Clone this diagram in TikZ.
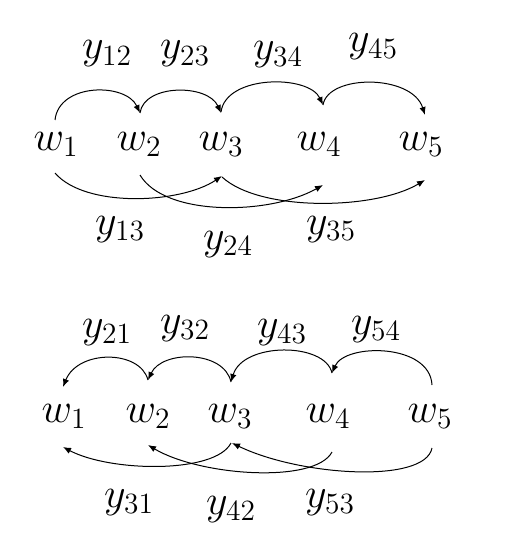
\RequirePackage{fix-cm}
\documentclass[tikz,border=0pt]{standalone}
\usetikzlibrary{arrows.meta,calc}
\begin{document}
\begin{tikzpicture}[x=0.5pt,y=-0.5pt,
  wn/.style={anchor=base,inner sep=0pt,font=\fontsize{21}{25}\selectfont},
  lab/.style={anchor=base,inner sep=0pt,font=\fontsize{21}{25}\selectfont},
  arc/.style={line width=0.5pt,-{Latex[length=4pt,width=3.2pt]}}]
\useasboundingbox (0,0) rectangle (520,540);
% top diagram
\node[wn] (a1) at (56,150) {$w_1$};
\node[wn] (a2) at (139,150) {$w_2$};
\node[wn] (a3) at (221,150) {$w_3$};
\node[wn] (a4) at (319,150) {$w_4$};
\node[wn] (a5) at (421,150) {$w_5$};
\node[lab] (y12) at (107,59) {$y_{12}$};
\node[lab] (y23) at (185,59) {$y_{23}$};
\node[lab] (y34) at (278,60) {$y_{34}$};
\node[lab] (y45) at (373,52) {$y_{45}$};
\node[lab] (y13) at (120,234) {$y_{13}$};
\node[lab] (y24) at (228,249) {$y_{24}$};
\node[lab] (y35) at (331,234) {$y_{35}$};
\draw[arc] ($(a1.base)+(-1,-30)$) .. controls ($(a1.base)+(3,-67.4)$) and ($(a2.base)+(-13,-67.4)$) .. ($(a2.base)+(1,-37)$);
\draw[arc] ($(a2.base)+(1,-37)$) .. controls ($(a2.base)+(5,-66.3)$) and ($(a3.base)+(-13,-66.3)$) .. ($(a3.base)+(0,-37)$);
\draw[arc] ($(a3.base)+(0,-38)$) .. controls ($(a3.base)+(5,-75.5)$) and ($(a4.base)+(-10,-75.5)$) .. ($(a4.base)+(4,-45)$);
\draw[arc] ($(a4.base)+(4,-45)$) .. controls ($(a4.base)+(9,-76)$) and ($(a5.base)+(-9,-76)$) .. ($(a5.base)+(4,-35)$);
\draw[arc] ($(a1.base)+(-1,23)$) .. controls ($(a1.base)+(29,58)$) and ($(a3.base)+(-41,54)$) .. ($(a3.base)+(1,26)$);
\draw[arc] ($(a2.base)+(1,25)$) .. controls ($(a2.base)+(26,67)$) and ($(a4.base)+(-49,65)$) .. ($(a4.base)+(4,35)$);
\draw[arc] ($(a3.base)+(1,27)$) .. controls ($(a3.base)+(39,62)$) and ($(a5.base)+(-46,60)$) .. ($(a5.base)+(4,30)$);
% bottom diagram
\node[wn] (b1) at (64,422) {$w_1$};
\node[wn] (b2) at (148,422) {$w_2$};
\node[wn] (b3) at (230,422) {$w_3$};
\node[wn] (b4) at (328,422) {$w_4$};
\node[wn] (b5) at (430,422) {$w_5$};
\node[lab] (y21) at (107,337) {$y_{21}$};
\node[lab] (y32) at (185,333) {$y_{32}$};
\node[lab] (y43) at (282,337) {$y_{43}$};
\node[lab] (y54) at (376,334) {$y_{54}$};
\node[lab] (y31) at (129,507) {$y_{31}$};
\node[lab] (y42) at (231,514) {$y_{42}$};
\node[lab] (y53) at (330,507) {$y_{53}$};
\draw[arc] ($(b2.base)+(0,-42)$) .. controls ($(b2.base)+(-8,-72.5)$) and ($(b1.base)+(14,-72.5)$) .. ($(b1.base)+(-1,-35)$);
\draw[arc] ($(b3.base)+(1,-40)$) .. controls ($(b3.base)+(-6,-72)$) and ($(b2.base)+(14,-72)$) .. ($(b2.base)+(0,-42)$);
\draw[arc] ($(b4.base)+(4,-49)$) .. controls ($(b4.base)+(-3,-80)$) and ($(b3.base)+(13,-80)$) .. ($(b3.base)+(1,-40)$);
\draw[arc] ($(b5.base)+(2,-37)$) .. controls ($(b5.base)+(0,-79)$) and ($(b4.base)+(17,-79)$) .. ($(b4.base)+(4,-49)$);
\draw[arc] ($(b3.base)+(1,21)$) .. controls ($(b3.base)+(-15,52)$) and ($(b1.base)+(46,50)$) .. ($(b1.base)+(-1,25)$);
\draw[arc] ($(b4.base)+(4,30)$) .. controls ($(b4.base)+(-13,62)$) and ($(b2.base)+(52,54)$) .. ($(b2.base)+(0,23)$);
\draw[arc] ($(b5.base)+(2,26)$) .. controls ($(b5.base)+(-5,62)$) and ($(b3.base)+(70,54)$) .. ($(b3.base)+(2,21)$);
\end{tikzpicture}
\end{document}
